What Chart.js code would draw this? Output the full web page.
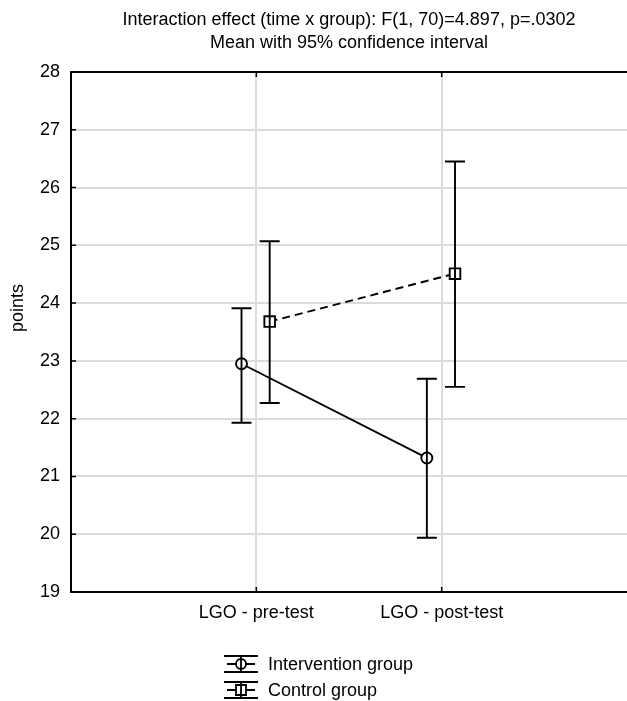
<!DOCTYPE html>
<html>
<head>
<meta charset="utf-8">
<script src="https://cdn.jsdelivr.net/npm/chart.js@4"></script>
<style>
  html, body { margin: 0; padding: 0; background: #fff; }
</style>
</head>
<body>
<canvas id="plot" width="627" height="701"></canvas>
<script>
// values
var categories = ['LGO - pre-test', 'LGO - post-test'];
var interventionMean = [22.95, 21.32];
var interventionLow = [21.93, 19.94];
var interventionHigh = [23.91, 22.69];
var controlMean = [23.68, 24.51];
var controlLow = [22.27, 22.55];
var controlHigh = [25.07, 26.45];
var yTicks = [19, 20, 21, 22, 23, 24, 25, 26, 27, 28];
var seriesNames = ['Intervention group', 'Control group'];
var yTitle = 'points';
var titleLines = ['Interaction effect (time x group): F(1, 70)=4.897, p=.0302',
                  'Mean with 95% confidence interval'];

var FONT = "'Liberation Sans', Arial, sans-serif";
Chart.defaults.font.family = FONT;
Chart.defaults.font.size = 18;
Chart.defaults.color = '#000';

// small horizontal dodge so the two groups don't overlap
function points(mean, low, high, dodge){
  return mean.map(function(m, i){
    return {x: i + 1 + dodge, y: m, lo: low[i], hi: high[i]};
  });
}

var errorBars = {
  id: 'errorBars',
  afterDatasetsDraw: function(chart){
    var ctx = chart.ctx, xs = chart.scales.x, ys = chart.scales.y;
    ctx.save();
    ctx.strokeStyle = '#000';
    ctx.lineWidth = 1.9;
    chart.data.datasets.forEach(function(ds){
      ds.data.forEach(function(p){
        var x = xs.getPixelForValue(p.x);
        var t = ys.getPixelForValue(p.hi), b = ys.getPixelForValue(p.lo);
        ctx.beginPath();
        ctx.moveTo(x, t); ctx.lineTo(x, b);
        ctx.moveTo(x - 10, t); ctx.lineTo(x + 10, t);
        ctx.moveTo(x - 10, b); ctx.lineTo(x + 10, b);
        ctx.stroke();
      });
    });
    ctx.restore();
  }
};

// top border, short inward tick marks and the y title like the original
var frame = {
  id: 'frame',
  afterDraw: function(chart){
    var ctx = chart.ctx, a = chart.chartArea, xs = chart.scales.x, ys = chart.scales.y;
    ctx.save();
    ctx.strokeStyle = '#000';
    ctx.lineWidth = 2;
    ctx.beginPath();
    ctx.moveTo(a.left - 1, a.top); ctx.lineTo(a.right, a.top);
    ctx.stroke();
    ctx.lineWidth = 1.5;
    ctx.beginPath();
    ys.ticks.forEach(function(t){
      var y = ys.getPixelForValue(t.value);
      ctx.moveTo(a.left, y); ctx.lineTo(a.left + 5, y);
    });
    xs.ticks.forEach(function(t){
      var x = xs.getPixelForValue(t.value);
      ctx.moveTo(x, a.bottom); ctx.lineTo(x, a.bottom - 5);
      ctx.moveTo(x, a.top); ctx.lineTo(x, a.top + 5);
    });
    ctx.stroke();
    // axis title sits a bit above the middle in the original
    ctx.translate(18, 308);
    ctx.rotate(-Math.PI / 2);
    ctx.font = '18px ' + FONT;
    ctx.fillStyle = '#000';
    ctx.textAlign = 'center';
    ctx.textBaseline = 'middle';
    ctx.fillText(yTitle, 0, 0);
    ctx.restore();
  }
};

var legendBox = {
  id: 'legendBox',
  afterDraw: function(chart){
    var ctx = chart.ctx;
    ctx.save();
    ctx.strokeStyle = '#000';
    ctx.lineWidth = 1.8;
    ctx.font = '18px ' + FONT;
    ctx.textBaseline = 'middle';
    seriesNames.forEach(function(name, i){
      var cy = chart.height - 37 + i * 26, x0 = 224, x1 = 258, cx = 241;
      ctx.beginPath();
      ctx.moveTo(x0, cy - 8); ctx.lineTo(x1, cy - 8);
      ctx.moveTo(x0, cy + 8); ctx.lineTo(x1, cy + 8);
      ctx.moveTo(x0 + 3, cy); ctx.lineTo(x1 - 3, cy);
      ctx.stroke();
      ctx.beginPath();
      if (i === 0) ctx.arc(cx, cy, 5, 0, Math.PI * 2);
      else ctx.rect(cx - 5, cy - 5, 10, 10);
      ctx.fillStyle = '#fff';
      ctx.fill();
      ctx.stroke();
      ctx.beginPath();
      ctx.moveTo(cx, cy - 8); ctx.lineTo(cx, cy + 8);
      ctx.stroke();
      ctx.fillStyle = '#000';
      ctx.fillText(name, 268, cy + 1);
    });
    ctx.restore();
  }
};

new Chart(document.getElementById('plot'), {
  type: 'line',
  data: {
    datasets: [{
      label: seriesNames[0],
      data: points(interventionMean, interventionLow, interventionHigh, -0.08),
      borderColor: '#000',
      borderWidth: 1.9,
      pointStyle: 'circle',
      pointRadius: 5.5,
      pointBorderWidth: 1.9,
      pointBackgroundColor: '#fff',
      pointBorderColor: '#000'
    }, {
      label: seriesNames[1],
      data: points(controlMean, controlLow, controlHigh, 0.072),
      borderColor: '#000',
      borderWidth: 1.9,
      borderDash: [8, 5],
      pointStyle: 'rect',
      pointRadius: 7.5,
      pointBorderWidth: 1.9,
      pointBackgroundColor: '#fff',
      pointBorderColor: '#000'
    }]
  },
  options: {
    responsive: false,
    animation: false,
    layout: { autoPadding: false, padding: { top: 0, right: 0, left: 0, bottom: 69 } },
    plugins: {
      legend: { display: false },
      tooltip: { enabled: false },
      title: {
        display: true,
        fullSize: false,
        text: titleLines,
        font: { size: 18, weight: 'normal', lineHeight: 23 / 18 },
        padding: { top: 9, bottom: 17 }
      }
    },
    scales: {
      x: {
        type: 'linear',
        min: 0,
        max: 3,
        afterBuildTicks: function(scale){
          scale.ticks = categories.map(function(c, i){ return {value: i + 1}; });
        },
        afterFit: function(scale){
          scale.height = 40;
          scale.paddingLeft = 0;
          scale.paddingRight = 0;
        },
        ticks: {
          padding: 10,
          maxRotation: 0,
          autoSkip: false,
          callback: function(v){ return categories[v - 1]; }
        },
        grid: { color: '#dcdcdc', lineWidth: 2, drawTicks: false },
        border: { color: '#000', width: 2 }
      },
      y: {
        min: 19,
        max: 28,
        afterBuildTicks: function(scale){
          scale.ticks = yTicks.map(function(v){ return {value: v}; });
        },
        afterFit: function(scale){ scale.width = 71; },
        ticks: { padding: 11 },
        grid: { color: '#dcdcdc', lineWidth: 2, drawTicks: false },
        border: { color: '#000', width: 2 }
      }
    }
  },
  plugins: [errorBars, frame, legendBox]
});
</script>
</body>
</html>
